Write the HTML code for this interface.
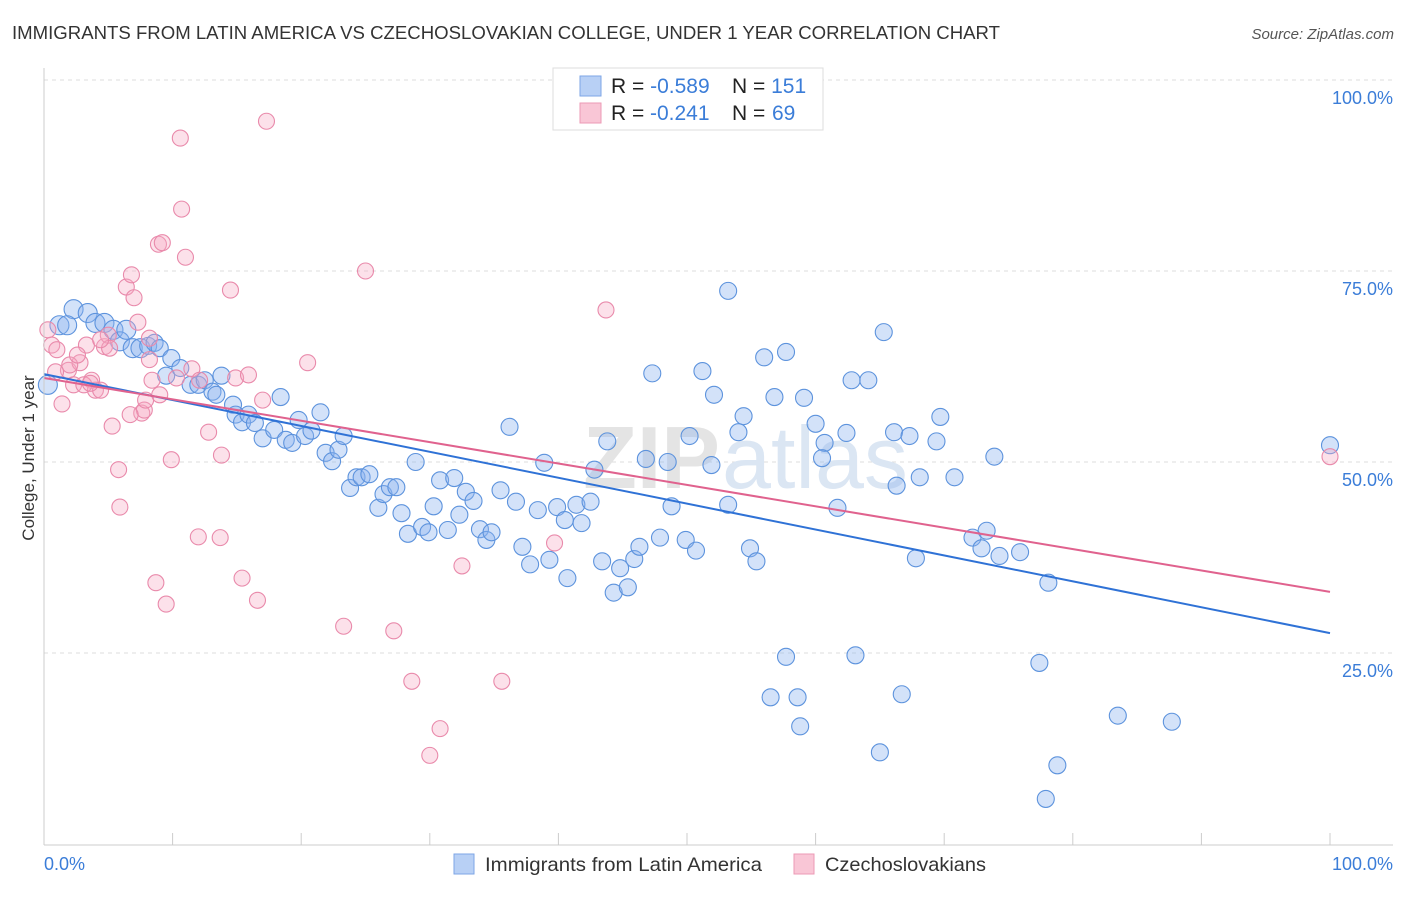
<!DOCTYPE html>
<html><head><meta charset="utf-8"><style>
body{margin:0;background:#fff;font-family:"Liberation Sans",sans-serif}
svg text{font-family:"Liberation Sans",sans-serif}
</style></head><body>
<svg width="1406" height="892" viewBox="0 0 1406 892">
<text x="12" y="39" font-size="18" fill="#333" textLength="988" lengthAdjust="spacingAndGlyphs">IMMIGRANTS FROM LATIN AMERICA VS CZECHOSLOVAKIAN COLLEGE, UNDER 1 YEAR CORRELATION CHART</text>
<text x="1394" y="39" font-size="15" fill="#555" font-style="italic" text-anchor="end">Source: ZipAtlas.com</text>
<g id="grid"></g>
<text x="720" y="488" font-size="88" font-weight="bold" fill="#e4e4e4" text-anchor="end">ZIP</text>
<text x="722" y="488" font-size="88" fill="#dbe6f3">atlas</text>
<g id="pts"></g>
<g id="lines"></g>
<g id="axes"></g>
<text x="34" y="458" font-size="17" fill="#333" text-anchor="middle" transform="rotate(-90 34 458)">College, Under 1 year</text>
<g>
<rect x="553" y="68" width="270" height="62" fill="#fff" stroke="#ddd"/>
<rect x="580" y="76" width="21" height="20" fill="#b8d0f5" stroke="#7ea6e6"/>
<rect x="580" y="103" width="21" height="20" fill="#f9c6d6" stroke="#ec9ab5"/>
<text x="611" y="93" font-size="21" fill="#222">R = <tspan fill="#3b7dd8">-0.589</tspan><tspan x="732">N = </tspan><tspan fill="#3b7dd8">151</tspan></text>
<text x="611" y="120" font-size="21" fill="#222">R = <tspan x="650" fill="#3b7dd8">-0.241</tspan><tspan x="732">N = </tspan><tspan x="772" fill="#3b7dd8">69</tspan></text>
</g>
<g>
<rect x="454" y="854" width="20" height="20" fill="#b8d0f5" stroke="#7ea6e6"/>
<text x="485" y="871" font-size="19.5" fill="#333" textLength="277" lengthAdjust="spacingAndGlyphs">Immigrants from Latin America</text>
<rect x="794" y="854" width="20" height="20" fill="#f9c6d6" stroke="#ec9ab5"/>
<text x="825" y="871" font-size="19.5" fill="#333" textLength="161" lengthAdjust="spacingAndGlyphs">Czechoslovakians</text>
</g>
</svg>
<script>
const yTicks=[100,75,50,25];
const yTickLabels=["100.0%","75.0%","50.0%","25.0%"];
const xEndLabels=["0.0%","100.0%"];
const bluePx=[[48,385],[60,325],[74,309],[88,313],[67,325],[96,323],[104,323],[113,330],[120,341],[126,330],[133,348],[140,348],[148,346],[155,343],[160,348],[171,358],[166,376],[180,368],[190,385],[198,385],[205,380],[212,392],[216,395],[222,376],[233,405],[236,415],[242,422],[248,415],[255,423],[262,438],[274,430],[280,397],[286,440],[292,443],[298,420],[305,436],[312,431],[320,412],[326,453],[332,461],[338,450],[343,436],[350,488],[356,477],[362,477],[370,474],[378,508],[384,494],[390,487],[396,487],[402,513],[408,534],[416,462],[422,527],[428,532],[434,506],[440,480],[448,530],[454,478],[460,515],[466,492],[474,501],[480,529],[486,540],[492,532],[500,490],[510,427],[516,502],[522,547],[530,564],[538,510],[544,463],[550,560],[557,507],[565,520],[568,578],[576,505],[582,523],[590,502],[594,470],[602,561],[607,441],[614,593],[620,568],[628,587],[634,559],[640,547],[646,459],[652,373],[660,538],[668,462],[672,506],[686,540],[690,436],[696,551],[702,371],[712,465],[714,395],[728,505],[728,291],[738,432],[743,416],[750,548],[756,561],[764,357],[774,397],[786,352],[786,657],[770,697],[797,697],[800,726],[804,398],[816,424],[824,443],[822,458],[838,508],[846,433],[852,380],[856,655],[868,380],[880,752],[884,332],[896,486],[894,432],[902,694],[910,436],[916,558],[920,477],[936,441],[940,417],[954,477],[972,538],[982,548],[986,531],[994,457],[1000,556],[1020,552],[1040,663],[1046,799],[1048,583],[1058,765],[1118,716],[1172,722],[1330,445]];
const pinkPx=[[48,330],[52,345],[57,350],[62,404],[68,370],[74,385],[80,363],[86,345],[92,380],[96,390],[100,390],[104,347],[108,335],[112,426],[118,470],[120,507],[126,287],[132,275],[134,298],[138,322],[142,413],[144,410],[150,338],[152,380],[156,583],[158,244],[162,243],[166,604],[171,460],[176,378],[180,138],[182,209],[186,257],[192,369],[198,537],[208,432],[220,538],[222,455],[230,290],[236,378],[242,578],[248,375],[258,600],[262,400],[266,121],[308,363],[344,626],[366,271],[394,631],[412,681],[440,729],[430,755],[462,566],[502,681],[554,543],[606,310],[1330,457],[70,365],[84,385],[110,348],[145,400],[78,355],[90,383],[130,415],[160,395],[200,380],[56,372],[100,340],[150,360]];
const blueX=bluePx.map(p=>+((p[0]-44)/12.86).toFixed(1)), blueY=bluePx.map(p=>+((844-p[1])/7.64).toFixed(1));
const pinkX=pinkPx.map(p=>+((p[0]-44)/12.86).toFixed(1)), pinkY=pinkPx.map(p=>+((844-p[1])/7.64).toFixed(1));
const blueTrend=[61.5,27.6], pinkTrend=[61.0,33.0];
const NS="http://www.w3.org/2000/svg";
const X=v=>44+v*12.86, Y=v=>844-v*7.64;
function mk(t,a,par){const e=document.createElementNS(NS,t);for(const k in a)e.setAttribute(k,a[k]);document.getElementById(par).appendChild(e);return e;}
yTicks.forEach((t,i)=>{
 const l=mk('line',{x1:44,x2:1393,y1:Y(t),y2:Y(t),stroke:'#ddd','stroke-dasharray':'4,4'},'grid');
 
 
 const tx=mk('text',{x:1393,y:Y(t)+24,'font-size':18,fill:'#3b7dd8','text-anchor':'end'},'axes');tx.textContent=yTickLabels[i];
 
 
});
const ax=mk('line',{x1:44,x2:1393,y1:845,y2:845,stroke:'#ccc'},'axes');


const ay=mk('line',{x1:44,x2:44,y1:68,y2:845,stroke:'#ccc'},'axes');


for(let i=0;i<=10;i++){const t=mk('line',{x1:X(i*10),x2:X(i*10),y1:833,y2:845,stroke:'#ccc'},'axes');
 
 }
[[0,'start'],[100,'end']].forEach((d,i)=>{const t=mk('text',{x:i?1393:44,y:870,'font-size':18,fill:'#3b7dd8','text-anchor':d[1]},'axes');t.textContent=xEndLabels[i];
 
 });
blueX.forEach((x,i)=>{const c=mk('circle',{cx:X(x),cy:Y(blueY[i]),r:i<12?9.5:8.5,fill:'rgba(140,180,240,0.38)',stroke:'#5d93dd','stroke-width':1.1},'pts');
 
 });
pinkX.forEach((x,i)=>{const c=mk('circle',{cx:X(x),cy:Y(pinkY[i]),r:8,fill:'rgba(245,170,195,0.35)',stroke:'#e98aab','stroke-width':1.1},'pts');
 
 });
const bl=mk('line',{x1:X(0),y1:Y(blueTrend[0]),x2:X(100),y2:Y(blueTrend[1]),stroke:'#2f72d6','stroke-width':2},'lines');


const pl=mk('line',{x1:X(0),y1:Y(pinkTrend[0]),x2:X(100),y2:Y(pinkTrend[1]),stroke:'#e0628e','stroke-width':2},'lines');


</script>
</body></html>
